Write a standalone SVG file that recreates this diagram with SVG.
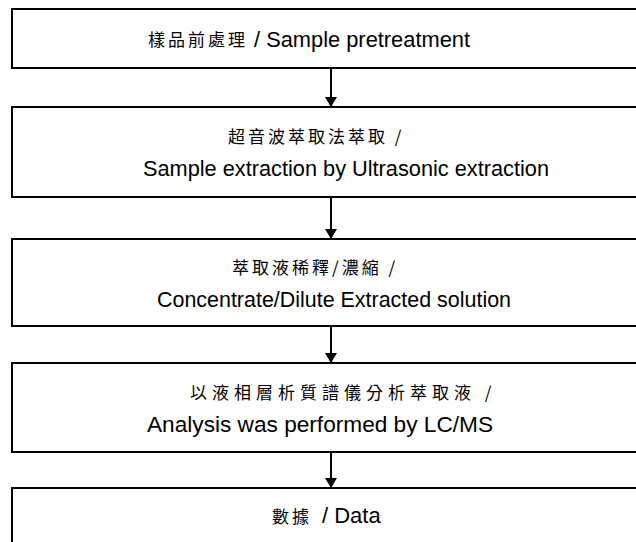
<svg xmlns="http://www.w3.org/2000/svg" width="636" height="542" viewBox="0 0 636 542">
<style>
.box{fill:#fff;stroke:#000;stroke-width:2}
.en{font-family:"Liberation Sans",Arial,sans-serif;font-size:22px;fill:#000}
.zh{font-family:"Noto Sans CJK TC","Noto Sans CJK SC",sans-serif;font-size:17px;fill:#000}
.conn{stroke:#000;stroke-width:2;fill:none}
</style>
<defs>
<marker id="ah" viewBox="0 0 10 12" refX="10" refY="6" markerWidth="10" markerHeight="12" markerUnits="userSpaceOnUse" orient="auto">
<path d="M0,0 L10,6 L0,12 Z" fill="#000"/>
</marker>
</defs>
<rect width="636" height="542" fill="#fff"/>
<g id="connectors">
<line class="conn" x1="331" y1="68" x2="331" y2="107" marker-end="url(#ah)"/>
<line class="conn" x1="331" y1="197" x2="331" y2="239" marker-end="url(#ah)"/>
<line class="conn" x1="331" y1="326" x2="331" y2="363" marker-end="url(#ah)"/>
<line class="conn" x1="331" y1="452" x2="331" y2="488" marker-end="url(#ah)"/>
</g>
<g id="n1">
<rect class="box" x="12" y="9" width="660" height="59"/>
<text x="148" y="46" class="zh" letter-spacing="3">樣品前處理</text>
<text x="254" y="47" class="en" textLength="216" lengthAdjust="spacingAndGlyphs">/ Sample pretreatment</text>
</g>
<g id="n2">
<rect class="box" x="12" y="107" width="660" height="90"/>
<text x="228" y="143" class="zh" letter-spacing="3">超音波萃取法萃取 /</text>
<text x="143" y="176" class="en" textLength="406" lengthAdjust="spacingAndGlyphs">Sample extraction by Ultrasonic extraction</text>
</g>
<g id="n3">
<rect class="box" x="12" y="239" width="660" height="87"/>
<text x="232" y="274" class="zh" letter-spacing="3">萃取液稀釋/濃縮 /</text>
<text x="157" y="307" class="en" textLength="354" lengthAdjust="spacingAndGlyphs">Concentrate/Dilute Extracted solution</text>
</g>
<g id="n4">
<rect class="box" x="12" y="363" width="660" height="89"/>
<text x="190" y="399" class="zh" letter-spacing="5">以液相層析質譜儀分析萃取液 /</text>
<text x="147" y="432" class="en" textLength="346" lengthAdjust="spacingAndGlyphs">Analysis was performed by LC/MS</text>
</g>
<g id="n5">
<rect class="box" x="12" y="488" width="660" height="80"/>
<text x="272" y="523" class="zh" letter-spacing="3">數據</text>
<text x="322" y="523" class="en">/ Data</text>
</g>
</svg>
